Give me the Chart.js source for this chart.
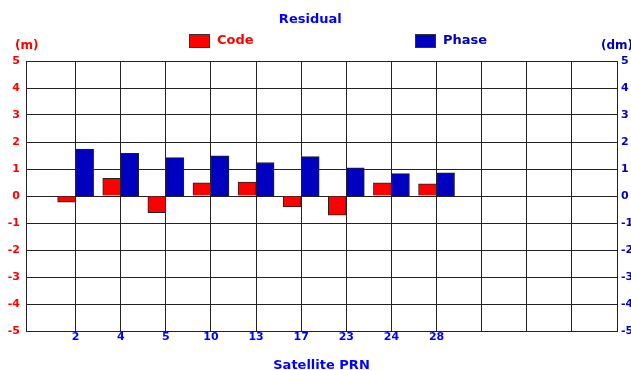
<!DOCTYPE html>
<html>
<head>
<meta charset="utf-8">
<title>Residual</title>
<script src="https://cdn.jsdelivr.net/npm/chart.js@4.4.1/dist/chart.umd.min.js"></script>
<style>
  html, body { margin: 0; padding: 0; background: #fff; overflow: hidden; }
  #chart { display: block; }
</style>
</head>
<body>
<canvas id="chart" width="631" height="370"></canvas>
<script>
// satellites on the x axis (one slot each, the rest of the axis stays empty)
const prnLabels = ['2', '4', '5', '10', '13', '17', '23', '24', '28'];
// code residual, metres (left axis)
const codeResidual = [-0.23, 0.65, -0.62, 0.49, 0.52, -0.40, -0.71, 0.49, 0.45];
// phase residual, decimetres (right axis)
const phaseResidual = [1.74, 1.58, 1.42, 1.49, 1.24, 1.46, 1.04, 0.83, 0.86];
const slotCount = 13;
const yMin = -5;
const yMax = 5;

const RED = '#ff0000';
const BLUE = '#0000ff';
const BAR_BLUE = '#0000c0';
const GRID = '#222';
const FONT = 'DejaVu Sans';

const toPoints = (vals) => vals.map((v, i) => ({ x: i + 1, y: v }));

// title, legend and unit labels, drawn on the canvas like the original
const residualDecor = {
  id: 'residualDecor',
  afterDraw(chart) {
    const { ctx, chartArea } = chart;
    const w = chartArea.right - chartArea.left;
    ctx.save();
    ctx.textBaseline = 'middle';

    ctx.font = `bold 13px "${FONT}"`;
    ctx.textAlign = 'center';
    ctx.fillStyle = BLUE;
    ctx.fillText('Residual', chartArea.left + w * 0.481, chartArea.top - 41);

    const items = [
      { text: 'Code', fill: RED, color: RED, at: 0.276 },
      { text: 'Phase', fill: BAR_BLUE, color: BAR_BLUE, at: 0.658 },
    ];
    ctx.textAlign = 'left';
    items.forEach((it) => {
      const x = Math.round(chartArea.left + w * it.at);
      const y = chartArea.top - 27;
      ctx.fillStyle = it.fill;
      ctx.fillRect(x, y, 21, 14);
      ctx.strokeStyle = '#333';
      ctx.lineWidth = 1;
      ctx.strokeRect(x + 0.5, y + 0.5, 20, 13);
      ctx.fillStyle = it.color;
      ctx.fillText(it.text, x + 28, chartArea.top - 20);
    });

    ctx.font = `bold 12px "${FONT}"`;
    ctx.fillStyle = RED;
    ctx.fillText('(m)', chartArea.left - 11, chartArea.top - 15);
    ctx.fillStyle = BAR_BLUE;
    ctx.fillText('(dm)', chartArea.right - 16, chartArea.top - 15);
    ctx.restore();
  }
};

new Chart(document.getElementById('chart'), {
  type: 'bar',
  data: {
    datasets: [
      {
        label: 'Code',
        data: toPoints(codeResidual),
        backgroundColor: RED,
        borderColor: '#222',
        borderWidth: 1,
        yAxisID: 'y',
      },
      {
        label: 'Phase',
        data: toPoints(phaseResidual),
        backgroundColor: BAR_BLUE,
        borderColor: '#222',
        borderWidth: 1,
        yAxisID: 'y2',
      },
    ],
  },
  plugins: [residualDecor],
  options: {
    responsive: false,
    animation: false,
    barThickness: 18,
    layout: { padding: { top: 61, left: 0, right: 0, bottom: 0 } },
    plugins: {
      legend: { display: false },
      tooltip: { enabled: false },
      title: { display: false },
    },
    scales: {
      x: {
        type: 'linear',
        min: -0.1,
        max: slotCount,
        offset: false,
        afterBuildTicks: (axis) => {
          const t = [];
          for (let i = 1; i <= slotCount; i++) t.push({ value: i });
          axis.ticks = t;
        },
        grid: { color: GRID, offset: false, drawTicks: false },
        border: { color: GRID },
        ticks: {
          autoSkip: false,
          maxRotation: 0,
          padding: 1,
          color: BLUE,
          font: { family: FONT, size: 11, weight: 'bold', lineHeight: 1 },
          callback: (v) => prnLabels[v - 1] ?? '',
        },
        title: {
          display: true,
          text: 'Satellite PRN',
          color: BLUE,
          font: { family: FONT, size: 13, weight: 'bold', lineHeight: 1 },
          padding: { top: 15, bottom: -2 },
        },
      },
      y: {
        position: 'left',
        min: yMin,
        max: yMax,
        afterFit: (axis) => { axis.width = 26; },
        grid: { color: GRID, drawTicks: false },
        border: { color: GRID },
        ticks: {
          stepSize: 1,
          padding: 6,
          color: RED,
          font: { family: FONT, size: 11, weight: 'bold' },
        },
      },
      y2: {
        position: 'right',
        min: yMin,
        max: yMax,
        afterFit: (axis) => { axis.width = 14; },
        grid: { display: false, drawTicks: false },
        border: { color: GRID },
        ticks: {
          stepSize: 1,
          padding: 4,
          color: BAR_BLUE,
          font: { family: FONT, size: 11, weight: 'bold' },
        },
      },
    },
  },
});
</script>
</body>
</html>
